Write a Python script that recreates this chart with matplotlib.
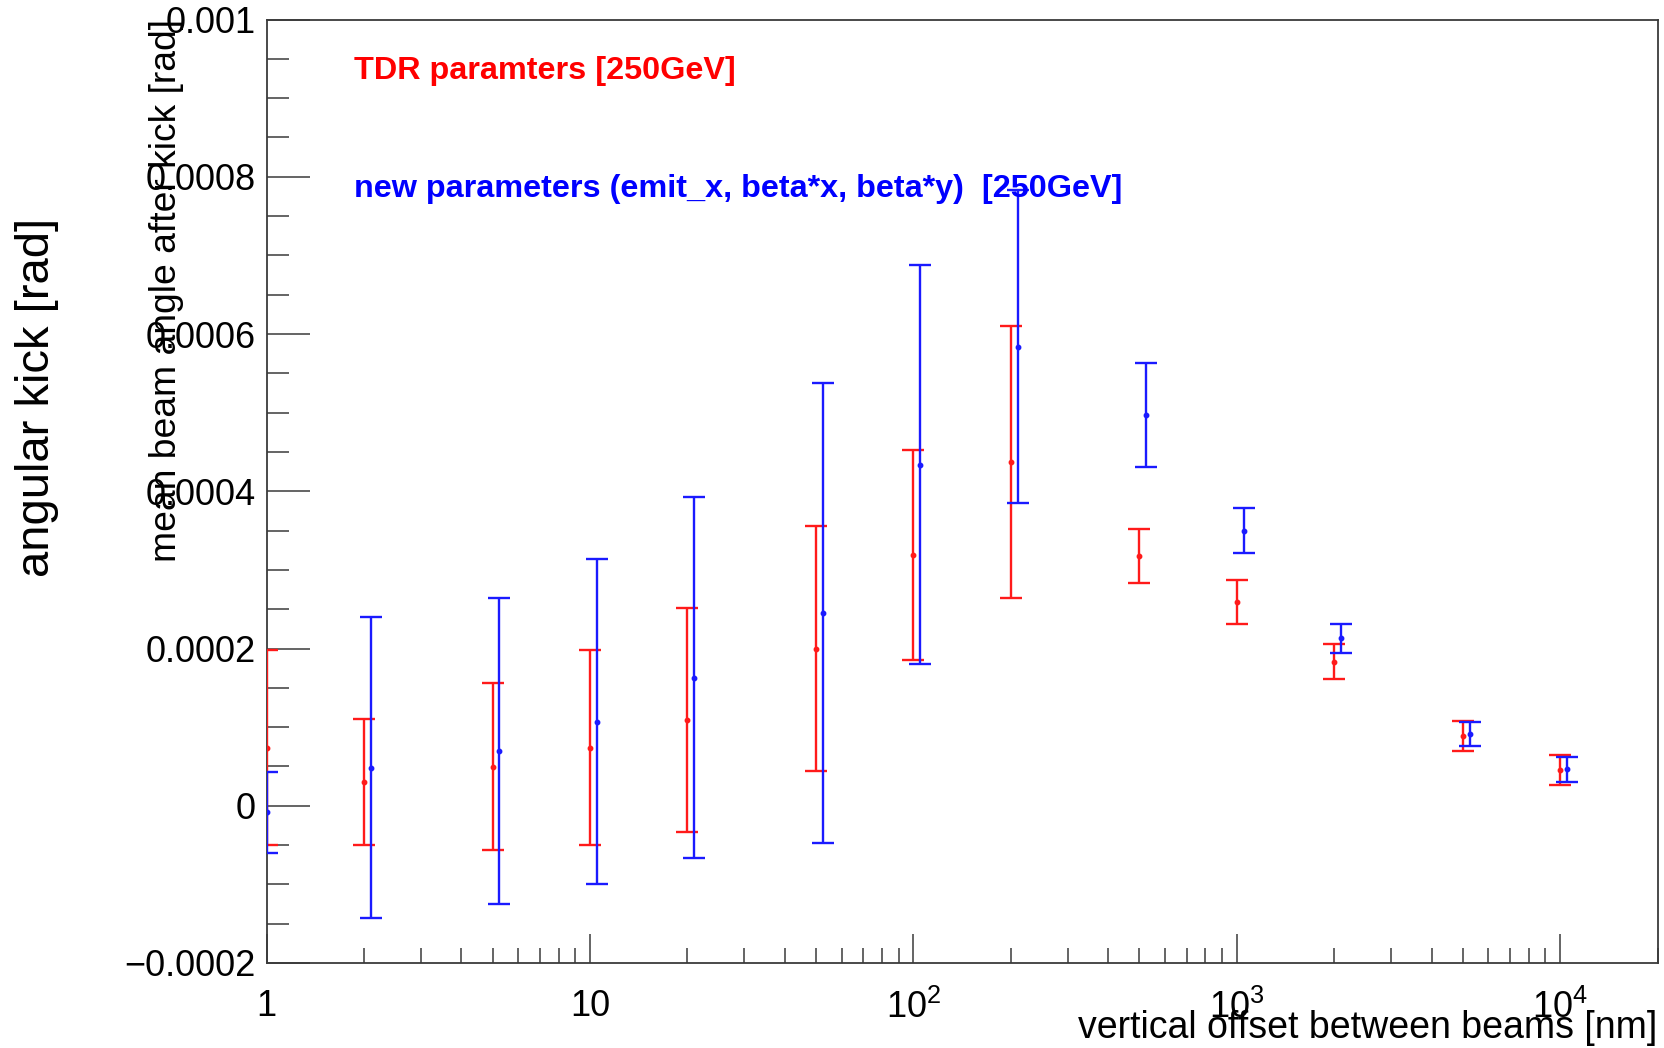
import matplotlib
matplotlib.use("Agg")
import matplotlib.pyplot as plt
from matplotlib.ticker import FixedLocator, FixedFormatter, LogLocator, NullFormatter, MultipleLocator

# Vertical offset between the beams [nm]
offset_nm = [1, 2, 5, 10, 20, 50, 100, 200, 500, 1000, 2000, 5000, 10000]
offset_new_nm = [1, 2.1, 5.25, 10.5, 21, 52.5, 105, 210, 525, 1050, 2100, 5250, 10500]

# Mean beam angle after kick [rad], TDR parameters
tdr_kick = [7.4e-5, 3.06e-5, 4.98e-5, 7.40e-5, 1.085e-4, 2.0e-4, 3.19e-4,
            4.37e-4, 3.18e-4, 2.59e-4, 1.83e-4, 8.9e-5, 4.56e-5]
tdr_err = [1.24e-4, 8.0e-5, 1.06e-4, 1.24e-4, 1.425e-4, 1.555e-4, 1.33e-4,
           1.73e-4, 3.45e-5, 2.8e-5, 2.23e-5, 1.9e-5, 1.9e-5]

# Mean beam angle after kick [rad], new parameters
new_kick = [-8e-6, 4.85e-5, 6.98e-5, 1.07e-4, 1.63e-4, 2.456e-4, 4.34e-4,
            5.84e-4, 4.97e-4, 3.5e-4, 2.13e-4, 9.15e-5, 4.64e-5]
new_err = [5.15e-5, 1.915e-4, 1.95e-4, 2.065e-4, 2.30e-4, 2.925e-4, 2.535e-4,
           1.99e-4, 6.57e-5, 2.9e-5, 1.85e-5, 1.53e-5, 1.6e-5]

x_ticks = [1, 10, 100, 1000, 10000]
x_tick_labels = ["1", "10", "$10^{2}$", "$10^{3}$", "$10^{4}$"]
y_ticks = [-0.0002, 0, 0.0002, 0.0004, 0.0006, 0.0008, 0.001]
y_tick_labels = ["\u22120.0002", "0", "0.0002", "0.0004", "0.0006", "0.0008", "0.001"]

plt.rcParams["font.family"] = ["Liberation Sans", "DejaVu Sans"]
plt.rcParams["mathtext.fontset"] = "custom"
plt.rcParams["mathtext.rm"] = "Liberation Sans"
plt.rcParams["mathtext.it"] = "Liberation Sans"
plt.rcParams["mathtext.bf"] = "Liberation Sans:bold"

W, H = 1665, 1048
fig = plt.figure(figsize=(W / 100, H / 100), dpi=100)
ax_l, ax_r, ax_t, ax_b = 266.5, 1657.6, 19.5, 963.0
ax = fig.add_axes([ax_l / W, 1 - ax_b / H, (ax_r - ax_l) / W, (ax_b - ax_t) / H])

ax.set_xscale("log")
ax.set_xlim(1, 2.0e4)
ax.set_ylim(-0.0002, 0.001)

frame_col = "#3a3a3a"
for s in ax.spines.values():
    s.set_color(frame_col)
    s.set_linewidth(1.3)

ebkw = dict(fmt="o", markersize=3.2, elinewidth=1.7, capsize=8, capthick=1.7,
            zorder=3, clip_on=True)
ax.errorbar(offset_nm, tdr_kick, yerr=tdr_err, color="#ff1a1a", **ebkw)
ax.errorbar(offset_new_nm, new_kick, yerr=new_err, color="#1a1aff", **ebkw)

# Axis ticks, drawn inward on the left and bottom only
ax.xaxis.set_major_locator(FixedLocator(x_ticks))
ax.xaxis.set_major_formatter(FixedFormatter(x_tick_labels))
ax.xaxis.set_minor_locator(LogLocator(base=10, subs=range(2, 10), numticks=20))
ax.xaxis.set_minor_formatter(NullFormatter())
ax.yaxis.set_major_locator(FixedLocator(y_ticks))
ax.yaxis.set_major_formatter(FixedFormatter(y_tick_labels))
ax.yaxis.set_minor_locator(MultipleLocator(0.00005))

ax.tick_params(axis="both", which="both", direction="in", top=False, right=False,
               colors=frame_col, labelcolor="black", width=1.1, labelsize=26)
ax.tick_params(axis="y", which="major", length=31, pad=8)
ax.tick_params(axis="y", which="minor", length=15.6)
ax.tick_params(axis="x", which="major", length=21, pad=19)
ax.tick_params(axis="x", which="minor", length=10.8)

ax.set_xlabel("vertical offset between beams [nm]", fontsize=27, loc="right", va="center")
ax.xaxis.set_label_coords(1.0, -0.069)
ax.set_ylabel("mean beam angle after kick [rad]", fontsize=26.8, loc="top", va="center")
ax.yaxis.set_label_coords((167 - ax_l) / (ax_r - ax_l), 1.0)

fig.text(37 / W, 1 - 397 / H, "angular kick [rad]", rotation=90, fontsize=34,
         ha="center", va="center")

fig.text(353.6 / W, 1 - 79 / H, "TDR paramters [250GeV]", color="#ff0000",
         fontsize=23.3, fontweight="bold", ha="left", va="baseline")
fig.text(353.6 / W, 1 - 196.7 / H, "new parameters (emit_x, beta*x, beta*y)  [250GeV]",
         color="#0000ff", fontsize=23.3, fontweight="bold", ha="left", va="baseline")

fig.savefig("out.png", dpi=100)
